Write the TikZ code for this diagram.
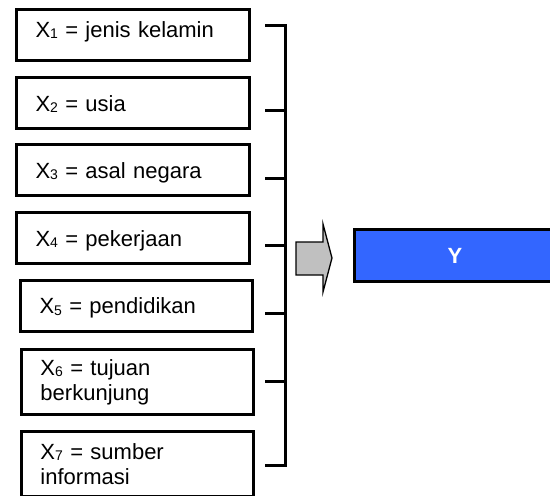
\documentclass[tikz,border=0pt]{standalone}
\usepackage{fontspec}
\setmainfont{Liberation Sans}
\usetikzlibrary{positioning}
\definecolor{yblue}{RGB}{51,102,255}
\definecolor{arrowgray}{RGB}{192,192,192}
\newcommand{\vsub}[1]{\raisebox{-1.5pt}{\fontsize{14}{14}\selectfont#1}}
\begin{document}
\begin{tikzpicture}
[x=1pt,y=-1pt,
  var/.style={shape=rectangle,draw=black,line width=3pt,minimum width=233pt,
    minimum height=51pt,inner xsep=19pt,inner ysep=0pt,text width=195pt,
    align=left,font=\fontsize{22}{25}\selectfont},
  one/.style={var,text height=16pt,text depth=0pt},
  two/.style={var,minimum width=232pt,minimum height=65pt,text width=194pt},
  result/.style={shape=rectangle,draw=black,fill=yblue,line width=3pt,
    minimum width=201pt,minimum height=52pt,text=white,
    font=\fontsize{22}{25}\selectfont\bfseries},
  bracket/.style={draw=black,line width=3pt,line join=miter}]

\useasboundingbox (0,0) rectangle (550,496);

\node [one,text depth=12pt] (x1) at (133,35) {X\vsub{1} = jenis kelamin};
\node [one] (x2) at (133,103) {X\vsub{2} = usia};
\node [one] (x3) at (133,170) {X\vsub{3} = asal negara};
\node [one] (x4) at (133,238) {X\vsub{4} = pekerjaan};
\node [one,minimum width=232pt,text width=194pt] (x5) at (136.5,305.5) {X\vsub{5} = pendidikan};
\node [two] (x6) at (137.5,382) {X\vsub{6} = tujuan\\berkunjung};
\node [two] (x7) at (137.5,464) {X\vsub{7} = sumber\\informasi};

\foreach \i/\ty in {1/25,2/110,3/178,4/245,5/313,6/381,7/465}
  {\coordinate (tick\i) at (265,\ty);
   \coordinate (spine\i) at (285,\ty);}
\draw [bracket] (tick1) -- (spine1) -- (spine7) -- (tick7);
\foreach \i in {2,...,6}
  \draw [bracket] (tick\i) -- (spine\i);

\draw [draw=black,fill=arrowgray,line width=1.3pt]
  (296,242) -- (323,242) -- (323,224) -- (332,258) -- (323,292)
  -- (323,275) -- (296,275) -- cycle;

\node [result] (y) at (455,255.5) {Y};
\end{tikzpicture}
\end{document}
